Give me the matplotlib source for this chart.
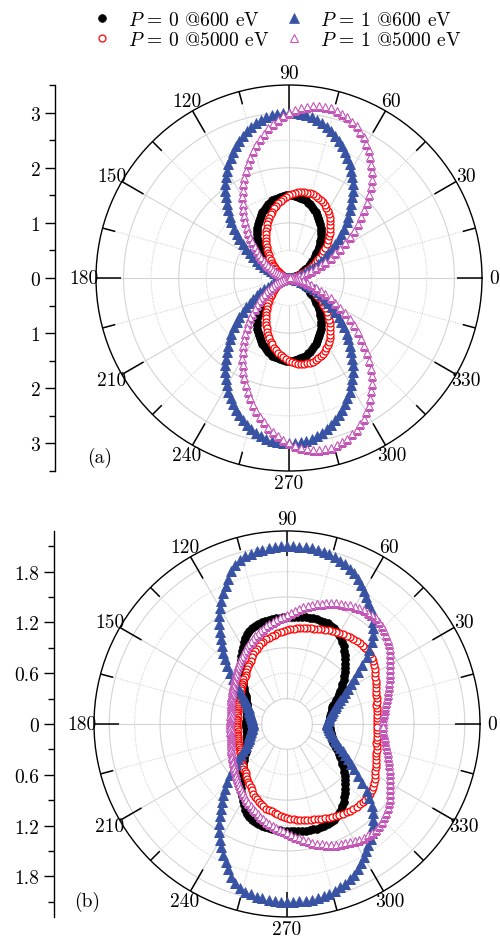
import numpy as np
import matplotlib
matplotlib.use('Agg')
import matplotlib.pyplot as plt
from matplotlib.lines import Line2D

plt.rcParams['font.family'] = ['cmr10', 'DejaVu Serif']
plt.rcParams['mathtext.fontset'] = 'cm'
plt.rcParams['axes.unicode_minus'] = False

# angles of the samples, 2 deg steps; the curves below are read for 0..180 deg,
# the patterns are mirror symmetric about the 0-180 axis
theta_half = np.arange(0, 182, 2)

# ---- panel (a) ----
r_a_p0_600 = [0.00, 0.00, 0.01, 0.02, 0.03, 0.05, 0.06, 0.09, 0.11, 0.14, 0.18, 0.21, 0.25, 0.29, 0.33, 0.38,
              0.42, 0.47, 0.52, 0.57, 0.62, 0.67, 0.72, 0.78, 0.83, 0.88, 0.93, 0.98, 1.03, 1.08, 1.13, 1.17,
              1.21, 1.25, 1.29, 1.32, 1.36, 1.39, 1.41, 1.44, 1.45, 1.47, 1.48, 1.49, 1.50, 1.50,
              1.50, 1.49, 1.48, 1.47, 1.45, 1.44, 1.41, 1.39, 1.36, 1.32, 1.29, 1.25, 1.21, 1.17, 1.13,
              1.08, 1.03, 0.98, 0.93, 0.88, 0.83, 0.78, 0.72, 0.67, 0.62, 0.57, 0.52, 0.47, 0.42, 0.38,
              0.33, 0.29, 0.25, 0.21, 0.18, 0.14, 0.11, 0.09, 0.06, 0.05, 0.03, 0.02, 0.01, 0.00, 0.00]
r_a_p0_5000 = [0.00, 0.00, 0.01, 0.02, 0.04, 0.07, 0.10, 0.13, 0.17, 0.21, 0.26, 0.31, 0.36, 0.42, 0.48, 0.54,
               0.60, 0.66, 0.73, 0.79, 0.86, 0.92, 0.98, 1.05, 1.11, 1.16, 1.22, 1.27, 1.32, 1.37, 1.41, 1.44,
               1.48, 1.51, 1.53, 1.55, 1.57, 1.58, 1.58, 1.58, 1.58, 1.57, 1.56, 1.55, 1.52, 1.50,
               1.47, 1.44, 1.41, 1.37, 1.33, 1.29, 1.24, 1.20, 1.15, 1.10, 1.05, 1.00, 0.95, 0.90, 0.84,
               0.79, 0.74, 0.69, 0.65, 0.60, 0.55, 0.51, 0.46, 0.42, 0.38, 0.35, 0.31, 0.28, 0.24, 0.21,
               0.19, 0.16, 0.14, 0.11, 0.09, 0.08, 0.06, 0.05, 0.03, 0.02, 0.02, 0.01, 0.00, 0.00, 0.00]
r_a_p1_600 = [0.00, 0.00, 0.01, 0.03, 0.06, 0.09, 0.13, 0.18, 0.23, 0.29, 0.35, 0.42, 0.50, 0.58, 0.66, 0.75,
              0.84, 0.94, 1.04, 1.14, 1.24, 1.34, 1.45, 1.55, 1.66, 1.76, 1.86, 1.96, 2.06, 2.16, 2.25, 2.34,
              2.42, 2.50, 2.58, 2.65, 2.71, 2.77, 2.82, 2.87, 2.91, 2.94, 2.97, 2.99, 3.00, 3.00,
              3.00, 2.99, 2.97, 2.94, 2.91, 2.87, 2.82, 2.77, 2.71, 2.65, 2.58, 2.50, 2.42, 2.34, 2.25,
              2.16, 2.06, 1.96, 1.86, 1.76, 1.66, 1.55, 1.45, 1.34, 1.24, 1.14, 1.04, 0.94, 0.84, 0.75,
              0.66, 0.58, 0.50, 0.42, 0.35, 0.29, 0.23, 0.18, 0.13, 0.09, 0.06, 0.03, 0.01, 0.00, 0.00]
r_a_p1_5000 = [0.00, 0.01, 0.02, 0.05, 0.09, 0.13, 0.19, 0.26, 0.34, 0.42, 0.52, 0.62, 0.72, 0.84, 0.95, 1.07,
               1.20, 1.33, 1.46, 1.59, 1.71, 1.84, 1.97, 2.09, 2.21, 2.33, 2.44, 2.54, 2.64, 2.73, 2.81, 2.89,
               2.95, 3.01, 3.06, 3.10, 3.13, 3.15, 3.17, 3.17, 3.16, 3.15, 3.12, 3.09, 3.05, 3.00,
               2.94, 2.88, 2.81, 2.74, 2.66, 2.57, 2.48, 2.39, 2.29, 2.20, 2.10, 1.99, 1.89, 1.79, 1.69,
               1.59, 1.49, 1.39, 1.29, 1.19, 1.10, 1.01, 0.93, 0.84, 0.76, 0.69, 0.62, 0.55, 0.49, 0.43,
               0.37, 0.32, 0.27, 0.23, 0.19, 0.15, 0.12, 0.09, 0.07, 0.05, 0.03, 0.02, 0.01, 0.00, 0.00]

# ---- panel (b) ----
r_b_p0_600 = [0.50, 0.50, 0.50, 0.51, 0.51, 0.52, 0.53, 0.54, 0.55, 0.56, 0.57, 0.59, 0.62, 0.65, 0.68, 0.71,
              0.74, 0.78, 0.81, 0.85, 0.88, 0.92, 0.96, 0.99, 1.03, 1.07, 1.10, 1.14, 1.17, 1.20, 1.22, 1.24,
              1.26, 1.27, 1.28, 1.28, 1.285, 1.285, 1.285, 1.28, 1.28, 1.275, 1.27, 1.27, 1.265, 1.265,
              1.265, 1.26, 1.26, 1.255, 1.25, 1.245, 1.24, 1.23, 1.22, 1.21, 1.19, 1.16, 1.13, 1.09, 1.05,
              1.01, 0.97, 0.93, 0.88, 0.84, 0.80, 0.77, 0.73, 0.70, 0.67, 0.64, 0.61, 0.59, 0.57, 0.56,
              0.545, 0.53, 0.52, 0.51, 0.50, 0.495, 0.49, 0.485, 0.48, 0.48, 0.48, 0.48, 0.48, 0.48, 0.48]
r_b_p0_5000 = [1.06, 1.06, 1.06, 1.065, 1.07, 1.075, 1.08, 1.09, 1.10, 1.11, 1.12, 1.135, 1.15, 1.165, 1.18, 1.20,
               1.22, 1.24, 1.26, 1.27, 1.28, 1.285, 1.285, 1.285, 1.28, 1.28, 1.275, 1.265, 1.26, 1.25, 1.24,
               1.23, 1.22, 1.21, 1.20, 1.19, 1.18, 1.17, 1.165, 1.16, 1.15, 1.14, 1.135, 1.125, 1.12, 1.11,
               1.10, 1.09, 1.075, 1.06, 1.05, 1.04, 1.03, 1.01, 1.00, 0.98, 0.96, 0.94, 0.92, 0.89, 0.86,
               0.84, 0.82, 0.80, 0.78, 0.76, 0.75, 0.74, 0.72, 0.71, 0.70, 0.69, 0.675, 0.66, 0.65, 0.64,
               0.635, 0.63, 0.625, 0.62, 0.615, 0.61, 0.605, 0.60, 0.60, 0.595, 0.59, 0.59, 0.59, 0.59, 0.59]
r_b_p1_600 = [0.47, 0.475, 0.485, 0.495, 0.505, 0.52, 0.535, 0.55, 0.57, 0.595, 0.62, 0.655, 0.69, 0.73, 0.78,
              0.83, 0.89, 0.96, 1.04, 1.13, 1.23, 1.31, 1.39, 1.46, 1.52, 1.58, 1.63, 1.68, 1.72, 1.77, 1.81,
              1.86, 1.91, 1.95, 1.98, 2.01, 2.03, 2.05, 2.07, 2.08, 2.09, 2.095, 2.10, 2.10, 2.10, 2.10,
              2.10, 2.095, 2.09, 2.08, 2.07, 2.055, 2.04, 2.01, 1.97, 1.92, 1.85, 1.78, 1.72, 1.65, 1.58,
              1.505, 1.43, 1.35, 1.275, 1.20, 1.13, 1.06, 0.98, 0.90, 0.83, 0.77, 0.71, 0.66, 0.61, 0.57,
              0.545, 0.52, 0.50, 0.49, 0.48, 0.47, 0.455, 0.445, 0.44, 0.43, 0.42, 0.415, 0.41, 0.405, 0.40]
r_b_p1_5000 = [1.13, 1.13, 1.14, 1.15, 1.165, 1.18, 1.20, 1.22, 1.24, 1.26, 1.28, 1.305, 1.33, 1.355, 1.38, 1.41,
               1.44, 1.47, 1.50, 1.525, 1.55, 1.57, 1.59, 1.61, 1.62, 1.63, 1.63, 1.625, 1.62, 1.61, 1.60,
               1.585, 1.57, 1.555, 1.54, 1.52, 1.50, 1.48, 1.46, 1.435, 1.41, 1.39, 1.36, 1.335, 1.31, 1.285,
               1.27, 1.255, 1.24, 1.22, 1.20, 1.18, 1.16, 1.14, 1.12, 1.10, 1.08, 1.06, 1.04, 1.02, 1.00,
               0.98, 0.96, 0.94, 0.92, 0.90, 0.88, 0.86, 0.845, 0.83, 0.81, 0.80, 0.785, 0.775, 0.76, 0.75,
               0.74, 0.73, 0.72, 0.71, 0.70, 0.695, 0.69, 0.685, 0.68, 0.675, 0.675, 0.67, 0.67, 0.67, 0.67]

labels = [r'$P\,=\,0$ @600 eV', r'$P\,=\,0$ @5000 eV', r'$P\,=\,1$ @600 eV', r'$P\,=\,1$ @5000 eV']
angle_ticks = list(range(0, 360, 30))
ticks_a = [-3, -2, -1, 0, 1, 2, 3]
ticklabels_a = ['3', '2', '1', '0', '1', '2', '3']
ticks_b = [-1.8, -1.2, -0.6, 0, 0.6, 1.2, 1.8]
ticklabels_b = ['1.8', '1.2', '0.6', '0', '0.6', '1.2', '1.8']

BLUE = '#3953a4'
MAG = '#c356b6'
styles = [dict(marker='o', ms=5.6, mfc='k', mec='k', mew=0.5),
          dict(marker='o', ms=5.0, mfc='white', mec='red', mew=0.9),
          dict(marker='^', ms=6.6, mfc=BLUE, mec=BLUE, mew=0.5),
          dict(marker='^', ms=6.2, mfc='white', mec=MAG, mew=0.8)]
FS = 14


def full(half):
    half = np.asarray(half, dtype=float)
    return np.concatenate([half, half[-2:0:-1]])


theta = np.deg2rad(np.concatenate([theta_half, 360 - theta_half[-2:0:-1]]))

fig = plt.figure(figsize=(5, 9.45), dpi=100)
GRID = '#d4d4d4'


def polar_panel(rect, rmax, rings, solid, curves):
    ax = fig.add_axes(rect, projection='polar')
    ax.set_ylim(0, rmax)
    ax.set_yticks([])
    ax.grid(False)
    circ = np.linspace(0, 2 * np.pi, 361)
    for r, s in zip(rings, solid):
        ax.plot(circ, np.full_like(circ, r), color=GRID, lw=0.8,
                ls='-' if s else (0, (1, 1.2)), zorder=1)
    for d in range(0, 360, 15):
        t = np.deg2rad(d)
        major = d % 30 == 0
        ax.plot([t, t], [rings[0], rmax], color=GRID, lw=0.8,
                ls='-' if major else (0, (1, 1.2)), zorder=1)
        L = 0.13 if major else 0.068
        ax.plot([t, t], [rmax * (1 - L), rmax], color='k', lw=1.1, zorder=2,
                solid_capstyle='butt')
    for r_half, st in zip(curves, styles):
        ax.plot(theta, full(r_half), ls='none', zorder=3, **st)
    ax.set_xticks(np.deg2rad(angle_ticks))
    ax.set_xticklabels([str(a) for a in angle_ticks])
    ax.tick_params(axis='x', length=0, pad=1.5, labelsize=FS)
    ax.spines['polar'].set_linewidth(1.0)
    ax.set_ylim(0, rmax)
    return ax


def side_axis(rect, rmax, ticks, ticklabels, minor):
    lax = fig.add_axes(rect)
    lax.patch.set_visible(False)
    for s in ['top', 'right', 'bottom']:
        lax.spines[s].set_visible(False)
    lax.spines['left'].set_linewidth(1.0)
    lax.set_xticks([])
    lax.set_ylim(-rmax, rmax)
    lax.set_yticks(ticks)
    lax.set_yticklabels(ticklabels)
    lax.set_yticks(minor, minor=True)
    lax.tick_params(axis='y', which='major', length=7.5, width=1.0, pad=3, labelsize=FS)
    lax.tick_params(axis='y', which='minor', length=4, width=1.0)


polar_panel([0.192, 0.5005, 0.772, 0.4085], 3.5,
            [0.5, 1.0, 1.5, 2.0, 2.5, 3.0], [False, True, False, True, False, True],
            [r_a_p0_600, r_a_p0_5000, r_a_p1_600, r_a_p1_5000])
side_axis([0.11, 0.5005, 0.001, 0.4085], 3.5, ticks_a, ticklabels_a,
          [-3.5, -2.5, -1.5, -0.5, 0.5, 1.5, 2.5, 3.5])

polar_panel([0.188, 0.0286, 0.772, 0.4085], 2.28,
            [0.3, 0.6, 0.9, 1.2, 1.5, 1.8, 2.1], [True, False, True, False, True, False, True],
            [r_b_p0_600, r_b_p0_5000, r_b_p1_600, r_b_p1_5000])
side_axis([0.108, 0.0286, 0.001, 0.4085], 2.28, ticks_b, ticklabels_b,
          [-2.1, -1.5, -0.9, -0.3, 0.3, 0.9, 1.5, 2.1])

fig.text(100 / 500, 1 - 458 / 945, '(a)', ha='center', va='center', fontsize=FS)
fig.text(87 / 500, 1 - 902 / 945, '(b)', ha='center', va='center', fontsize=FS)

handles = [Line2D([], [], ls='none', **st) for st in styles]
for k, x0 in enumerate([0.150, 0.534]):
    leg = fig.legend(handles[2 * k:2 * k + 2], labels[2 * k:2 * k + 2], loc='upper left',
                     bbox_to_anchor=(x0, 1.006), frameon=False, handlelength=1.0,
                     handletextpad=0.8, labelspacing=0.12, fontsize=FS, borderpad=0.4)

fig.savefig('out.png', dpi=100)
